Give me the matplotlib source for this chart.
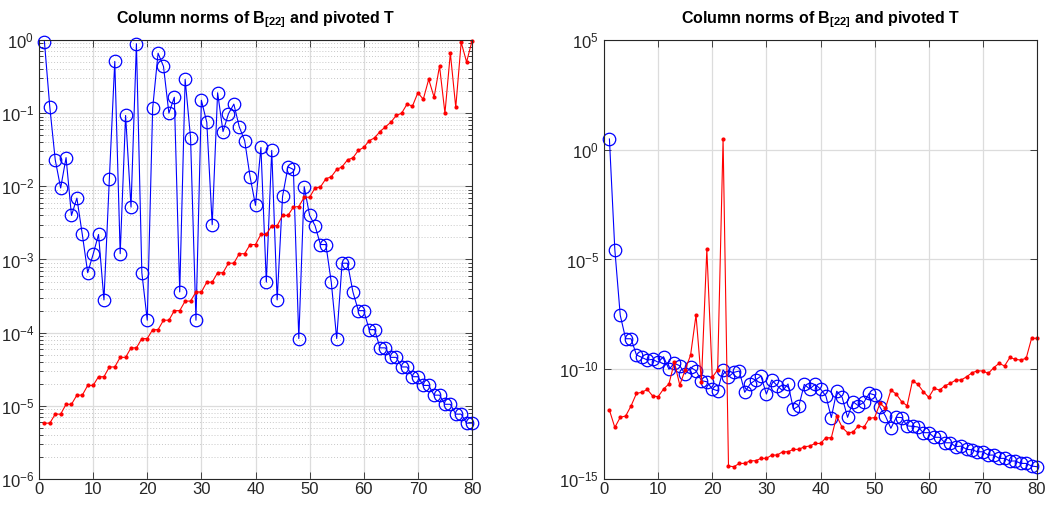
import numpy as np
import matplotlib
matplotlib.use("Agg")
import matplotlib.pyplot as plt
from matplotlib.ticker import LogLocator, NullLocator, FixedLocator

plt.rcParams["font.family"] = ["Liberation Sans", "DejaVu Sans"]
plt.rcParams["mathtext.fontset"] = "custom"
plt.rcParams["mathtext.rm"] = "Liberation Sans"
plt.rcParams["mathtext.bf"] = "Liberation Sans:bold"

idx = np.arange(1, 81)

# left panel: column norms (blue) and pivoted T (red)
left_blue = [
    0.95, 0.12, 0.023, 0.0095, 0.0247, 0.0040, 0.0069, 0.0022, 6.6e-4, 1.18e-3,
    0.0022, 2.8e-4, 0.0127, 0.51, 1.2e-3, 0.093, 0.0052, 0.89, 6.6e-4, 1.48e-4,
    0.117, 0.66, 0.435, 0.10, 0.165, 3.6e-4, 0.29, 0.046, 1.48e-4, 0.15,
    0.075, 0.0030, 0.19, 0.056, 0.098, 0.133, 0.065, 0.042, 0.0135, 0.0055,
    0.034, 4.9e-4, 0.031, 2.8e-4, 0.0073, 0.0185, 0.017, 8.3e-5, 0.0099, 0.0040,
    0.0029, 0.0016, 0.0016, 4.9e-4, 8.3e-5, 8.9e-4, 8.9e-4, 3.6e-4, 2.0e-4, 2.0e-4,
    1.1e-4, 1.1e-4, 6.2e-5, 6.2e-5, 4.6e-5, 4.6e-5, 3.4e-5, 3.4e-5, 2.5e-5, 2.5e-5,
    1.9e-5, 1.9e-5, 1.4e-5, 1.4e-5, 1.05e-5, 1.05e-5, 7.7e-6, 7.7e-6, 5.8e-6, 5.8e-6,
]
left_red = [
    5.8e-6, 5.8e-6, 7.7e-6, 7.7e-6, 1.05e-5, 1.05e-5, 1.4e-5, 1.4e-5, 1.9e-5, 1.9e-5,
    2.5e-5, 2.5e-5, 3.4e-5, 3.4e-5, 4.6e-5, 4.6e-5, 6.2e-5, 6.2e-5, 8.3e-5, 8.3e-5,
    1.1e-4, 1.1e-4, 1.48e-4, 1.48e-4, 2.0e-4, 2.0e-4, 2.7e-4, 2.7e-4, 3.6e-4, 3.6e-4,
    4.9e-4, 4.9e-4, 6.6e-4, 6.6e-4, 8.9e-4, 8.9e-4, 1.2e-3, 1.2e-3, 1.6e-3, 1.6e-3,
    2.2e-3, 2.2e-3, 2.9e-3, 2.9e-3, 0.0040, 0.0040, 0.0052, 0.0053, 0.0071, 0.0071,
    0.0095, 0.0098, 0.0127, 0.0135, 0.017, 0.0185, 0.023, 0.0245, 0.031, 0.034,
    0.042, 0.046, 0.056, 0.065, 0.075, 0.093, 0.10, 0.133, 0.125, 0.19,
    0.155, 0.29, 0.165, 0.44, 0.10, 0.66, 0.12, 0.93, 0.50, 0.97,
]

# right panel, log10 of the values
right_blue_log = [
    0.49, -4.55, -7.54, -8.61, -8.61, -9.35, -9.46, -9.58, -9.55, -9.68,
    -9.43, -10.0, -9.73, -9.84, -10.22, -9.91, -10.07, -10.52, -10.57, -10.9,
    -10.98, -10.03, -10.34, -10.14, -10.08, -11.05, -10.67, -10.49, -10.31, -11.13,
    -10.49, -10.75, -10.98, -10.67, -11.82, -11.67, -10.69, -10.9, -10.69, -10.9,
    -11.22, -12.2, -11.0, -11.28, -12.19, -11.48, -11.66, -11.51, -11.1, -11.17,
    -11.73, -12.13, -12.69, -12.19, -12.2, -12.58, -12.6, -12.63, -12.89, -12.89,
    -13.1, -13.1, -13.35, -13.35, -13.53, -13.5, -13.65, -13.67, -13.76, -13.76,
    -13.91, -13.91, -14.06, -14.06, -14.18, -14.18, -14.29, -14.29, -14.41, -14.44,
]
right_red_log = [
    -11.86, -12.65, -12.19, -12.13, -11.67, -11.1, -11.05, -10.92, -11.22, -11.25,
    -10.9, -10.67, -9.68, -10.72, -10.03, -9.35, -7.53, -10.57, -4.54, -10.37,
    -10.03, 0.49, -14.41, -14.44, -14.29, -14.29, -14.17, -14.17, -14.06, -14.06,
    -13.91, -13.91, -13.76, -13.76, -13.65, -13.65, -13.53, -13.5, -13.38, -13.38,
    -13.12, -13.12, -12.13, -12.65, -12.89, -12.87, -12.57, -12.65, -12.24, -12.2,
    -11.55, -11.78, -10.95, -11.13, -11.48, -11.66, -10.52, -10.69, -11.02, -11.28,
    -10.87, -10.95, -10.75, -10.64, -10.49, -10.49, -10.34, -10.16, -10.07, -10.08,
    -10.19, -9.93, -9.73, -9.85, -9.46, -9.55, -9.58, -9.5, -8.59, -8.59,
]

title = r"Column norms of $\mathbf{B_{[22]}}$ and pivoted T"
dark = "#262626"

fig = plt.figure(figsize=(10.48, 5.09), dpi=100)
ax1 = fig.add_axes([39 / 1048, 30 / 509, 433 / 1048, 439 / 509])
ax2 = fig.add_axes([604 / 1048, 30 / 509, 433 / 1048, 439 / 509])


def style_axes(ax):
    ax.set_xlim(0, 80)
    ax.set_xticks(range(0, 81, 10))
    ax.tick_params(which="both", direction="in", top=True, right=True,
                   colors=dark, labelsize=12, width=0.6)
    ax.tick_params(which="major", length=5)
    ax.tick_params(which="minor", length=3)
    ax.tick_params(axis="x", pad=2.5)
    ax.xaxis.set_minor_locator(NullLocator())
    for s in ax.spines.values():
        s.set_color(dark)
        s.set_linewidth(0.8)
    ax.grid(True, which="major", color="#dcdcdc", linewidth=0.9)
    ax.set_axisbelow(True)
    ax.set_title(title, fontsize=11.5, fontweight="bold", pad=12)


# left
ax1.semilogy(idx, left_blue, "-o", color="blue", mfc="none", ms=9, lw=0.8, mew=0.9,
             clip_on=False)
ax1.semilogy(idx, left_red, ".-", color="red", ms=4, lw=0.8, clip_on=False)
ax1.set_ylim(1e-6, 1)
ax1.yaxis.set_major_locator(LogLocator(base=10, numticks=10))
ax1.yaxis.set_minor_locator(LogLocator(base=10, subs=np.arange(2, 10), numticks=20))
style_axes(ax1)
ax1.grid(True, which="minor", axis="y", color="#c8c8c8", linestyle=(0, (1, 2)), linewidth=0.7)

# right
ax2.semilogy(idx, 10.0 ** np.array(right_blue_log), "-o", color="blue", mfc="none",
             ms=9, lw=0.8, mew=0.9, clip_on=False)
ax2.semilogy(idx, 10.0 ** np.array(right_red_log), ".-", color="red", ms=4, lw=0.8,
             clip_on=False)
ax2.set_ylim(1e-15, 1e5)
ax2.yaxis.set_major_locator(FixedLocator([1e-15, 1e-10, 1e-5, 1e0, 1e5]))
ax2.yaxis.set_minor_locator(NullLocator())
style_axes(ax2)

fig.savefig("out.png", dpi=100)
